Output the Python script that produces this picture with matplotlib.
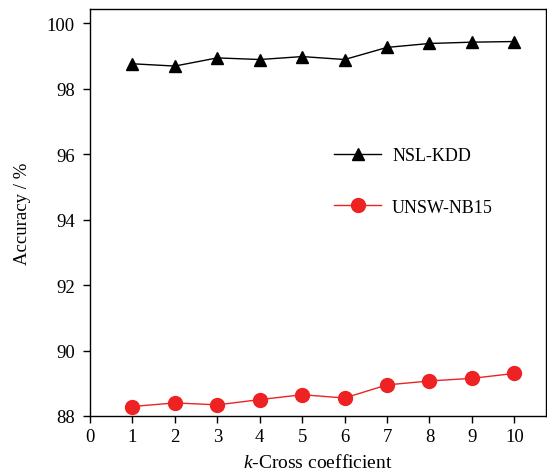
import matplotlib.pyplot as plt

plt.rcParams['font.family'] = ['Liberation Serif', 'DejaVu Serif']
plt.rcParams['mathtext.fontset'] = 'custom'
plt.rcParams['mathtext.it'] = 'Liberation Serif:italic'

k = [1, 2, 3, 4, 5, 6, 7, 8, 9, 10]
nsl_kdd = [98.76, 98.69, 98.94, 98.89, 98.98, 98.89, 99.26, 99.38, 99.42, 99.44]
unsw_nb15 = [88.29, 88.40, 88.34, 88.50, 88.65, 88.55, 88.95, 89.07, 89.15, 89.30]

fig = plt.figure(figsize=(5.47, 4.77), dpi=100)
ax = fig.add_axes([0.1645, 0.1258, 0.834, 0.853])

ax.plot(k, nsl_kdd, color='black', lw=1, marker='^', markersize=9, label='NSL-KDD')
ax.plot(k, unsw_nb15, color='#ee2222', lw=1, marker='o', markersize=10, label='UNSW-NB15')

ax.set_xlim(0, 10.75)
ax.set_ylim(88, 100.43)
ax.set_xticks(range(0, 11))
ax.set_yticks(range(88, 101, 2))
ax.tick_params(labelsize=13.5, direction='out', length=5, width=1)
ax.tick_params(axis='y', pad=6)
for s in ax.spines.values():
    s.set_linewidth(1)

ax.set_xlabel('$k$-Cross coefficient', fontsize=14, labelpad=6)
ax.set_ylabel('Accuracy / %', fontsize=13.5, labelpad=11)

ax.legend(frameon=False, fontsize=13, loc='upper left', bbox_to_anchor=(0.5, 0.70),
          labelspacing=1.9, handlelength=2.6, handletextpad=0.6)

fig.savefig('out.png', dpi=100)
